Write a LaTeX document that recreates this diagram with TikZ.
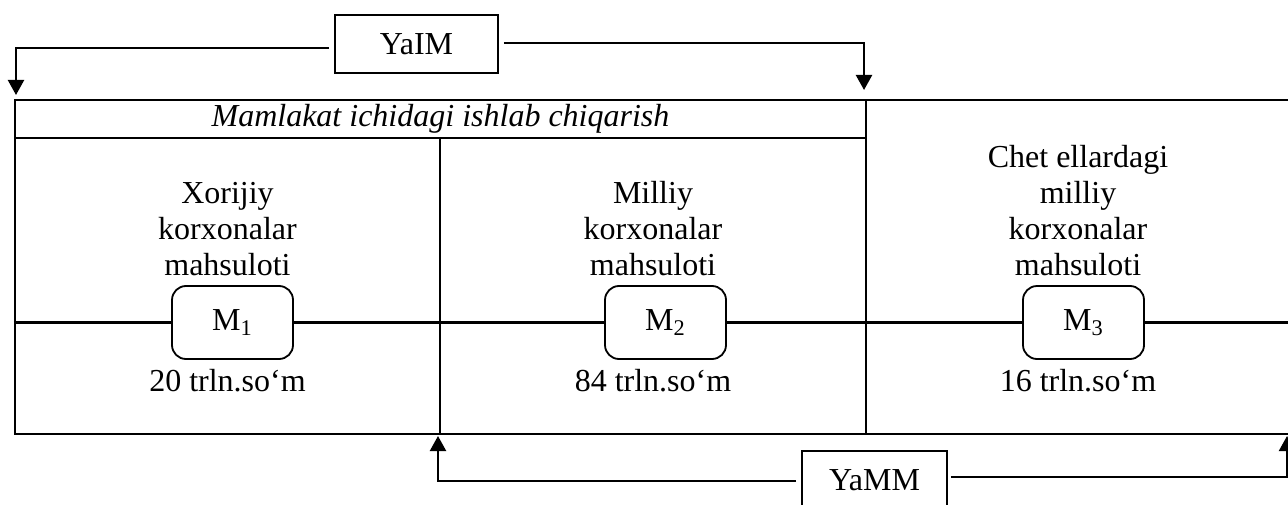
\documentclass[tikz,border=0pt]{standalone}
\usepackage{fontspec}
\setmainfont{Liberation Serif}
\usetikzlibrary{arrows.meta, positioning, calc}
\tikzstyle{cell} = [rectangle, 
inner sep=0pt, 
line width=1.2pt, 
draw=black]
\tikzstyle{sumbox} = [rectangle, 
minimum width=81.5pt, 
minimum height=29pt, 
line width=0.8pt, 
draw=black]
\tikzstyle{mbox} = [rectangle, rounded corners=7pt, 
minimum width=60.5pt, 
minimum height=36.5pt, 
line width=0.9pt, 
draw=black]
\tikzstyle{lbl} = [align=center, inner sep=0pt]
\tikzstyle{arrow} = [line width=1.1pt,-{Triangle[width=8pt,length=7.5pt]},draw=black]
\tikzstyle{link} = [line width=1.1pt,draw=black]

\begin{document}
\begin{tikzpicture}[x=0.5pt, y=0.5pt, every node/.style={font=\fontsize{16}{18}\selectfont}]
        \useasboundingbox (0,0) rectangle (1288,504);

        % Nodes
        \node (head) [cell, minimum width=425.5pt, minimum height=19pt] at (440.5,385) {\textit{Mamlakat ichidagi ishlab chiqarish}};
        \node (sec1) [cell, minimum width=212.5pt, minimum height=148pt] at (227.5,218) {};
        \node (sec2) [cell, minimum width=213pt, minimum height=148pt] at (653,218) {};
        \node (sec3) [cell, minimum width=212pt, minimum height=167pt] at (1078,237) {};

        \node (yaim) [sumbox] at (416.5,460) {YaIM};
        \node (yamm) [sumbox, minimum width=72.5pt] at (874.5,24) {YaMM};

        \node (m1) [mbox] at (232.5,181.5) {M\textsubscript{1}};
        \node (m2) [mbox] at (665.5,181.5) {M\textsubscript{2}};
        \node (m3) [mbox] at (1083.5,181.5) {M\textsubscript{3}};

        \node (t1) [lbl, anchor=south, yshift=4.5pt] at (sec1.center |- m1.north) {Xorijiy\\korxonalar\\mahsuloti};
        \node (t2) [lbl, anchor=south, yshift=4.5pt] at (sec2.center |- m2.north) {Milliy\\korxonalar\\mahsuloti};
        \node (t3) [lbl, anchor=south, yshift=4.5pt] at (sec3.center |- m3.north) {Chet ellardagi\\milliy\\korxonalar\\mahsuloti};

        \node (v1) [lbl, anchor=north, yshift=-4.5pt] at (sec1.center |- m1.south) {20 trln.so‘m};
        \node (v2) [lbl, anchor=north, yshift=-4.5pt] at (sec2.center |- m2.south) {84 trln.so‘m};
        \node (v3) [lbl, anchor=north, yshift=-4.5pt] at (sec3.center |- m3.south) {16 trln.so‘m};

        \coordinate (tl) at (16,409);
        \coordinate (tr) at (864,414);
        \coordinate (bl) at (438,68);
        \coordinate (br) at (1287,68);

        % Connections
        \draw [link] (sec1.west |- m1) -- (m1);
        \draw [link] (m1) -- (m2);
        \draw [link] (m2) -- (m3);
        \draw [link] (m3) -- (sec3.east |- m3);

        \draw [arrow, shorten <=2.5pt] ([yshift=-2pt]yaim.west) -| (tl);
        \draw [arrow, shorten <=2.5pt] ([yshift=0.5pt]yaim.east) -| (tr);
        \draw [arrow, shorten <=2.5pt] ([yshift=-0.5pt]yamm.west) -| (bl);
        \draw [arrow, shorten <=1.5pt] ([yshift=1.5pt]yamm.east) -| (br);

    \end{tikzpicture}
\end{document}
